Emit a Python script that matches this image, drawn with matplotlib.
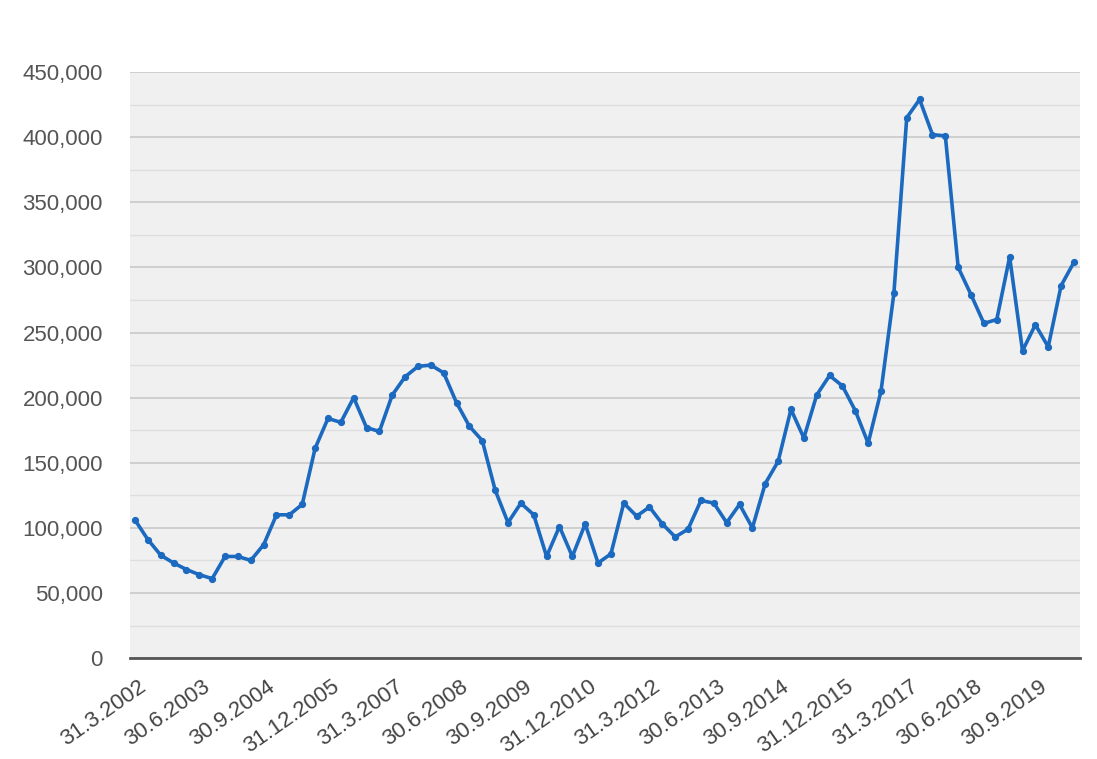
import matplotlib
matplotlib.use("Agg")
import matplotlib.pyplot as plt
from matplotlib.ticker import MultipleLocator, FuncFormatter
from matplotlib.transforms import ScaledTranslation

values = [106000, 91000, 79000, 73000, 68000, 64000, 61000, 78000, 78000, 75000,
          87000, 110000, 110000, 118000, 161000, 184000, 181000, 200000, 177000, 174000,
          202000, 216000, 224000, 225000, 219000, 196000, 178000, 167000, 129000, 104000,
          119000, 110000, 78000, 101000, 78000, 103000, 73000, 80000, 119000, 109000,
          116000, 103000, 93000, 99000, 121000, 119000, 104000, 118000, 100000, 134000,
          151000, 191000, 169000, 202000, 217000, 209000, 190000, 165000, 205000, 280000,
          415000, 429000, 402000, 401000, 300000, 279000, 257000, 260000, 308000, 236000,
          256000, 239000, 286000, 304000]

tick_labels = ["31.3.2002", "30.6.2003", "30.9.2004", "31.12.2005", "31.3.2007",
               "30.6.2008", "30.9.2009", "31.12.2010", "31.3.2012", "30.6.2013",
               "30.9.2014", "31.12.2015", "31.3.2017", "30.6.2018", "30.9.2019"]
tick_step = 5

plt.rcParams['font.family'] = ['Liberation Sans', 'DejaVu Sans']

fig = plt.figure(figsize=(10.97, 7.59), dpi=100)
ax = fig.add_axes([0.1185, 0.133, 0.8660, 0.772])
ax.set_facecolor('#f0f0f0')

x = list(range(len(values)))
ax.plot(x, values, color='#1b6ac0', linewidth=2.6, marker='o', markersize=4.2,
        solid_joinstyle='round', zorder=3)

ax.set_ylim(0, 450000)
ax.set_xlim(-0.39, len(values) - 1 + 0.47)
ax.yaxis.set_major_locator(MultipleLocator(50000))
ax.yaxis.set_minor_locator(MultipleLocator(25000))
ax.yaxis.set_major_formatter(FuncFormatter(lambda v, p: f"{int(v):,}"))
ax.grid(which='major', axis='y', color='#c9c9c9', linewidth=1.2, zorder=0)
ax.grid(which='minor', axis='y', color='#dedede', linewidth=1.0, zorder=0)
ax.set_axisbelow(True)

ticks = [i * tick_step for i in range(len(tick_labels))]
ax.set_xticks(ticks)
ax.set_xticklabels(tick_labels, rotation=35, ha='right', rotation_mode='anchor',
                   fontsize=16, color='#444444')
ax.tick_params(axis='x', length=0, pad=13)
ax.tick_params(axis='y', which='both', length=0, pad=19.5, labelsize=16, labelcolor='#555555')
offset = ScaledTranslation(3 / 100, 0, fig.dpi_scale_trans)
for lbl in ax.get_xticklabels():
    lbl.set_transform(lbl.get_transform() + offset)

for s in ['top', 'right', 'left']:
    ax.spines[s].set_visible(False)
ax.spines['bottom'].set_color('#555555')
ax.spines['bottom'].set_linewidth(2)

fig.savefig('out.png', dpi=100, facecolor='white')
